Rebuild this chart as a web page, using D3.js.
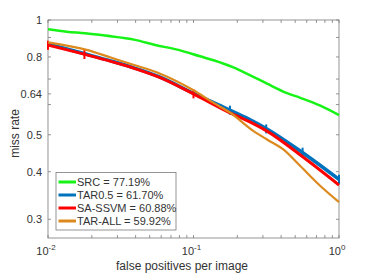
<!DOCTYPE html>
<html>
<head>
<meta charset="utf-8">
<script src="https://cdn.jsdelivr.net/npm/d3@7"></script>
<style>
  body { margin: 0; background: #fff; }
  text { font-family: "Liberation Sans", Arial, sans-serif; fill: #333; }
</style>
</head>
<body>
<svg id="Diagram"></svg>
<script>
// miss rate vs false positives per image
var srcFppi = [0.01, 0.01345, 0.018, 0.0247, 0.0397, 0.0546, 0.0787, 0.111, 0.1374, 0.188, 0.2455, 0.32, 0.4395, 0.542, 0.745, 1];
var srcMr   = [0.946, 0.932, 0.923, 0.910, 0.887, 0.860, 0.835, 0.803, 0.784, 0.751, 0.716, 0.681, 0.643, 0.625, 0.596, 0.563];

var tarFppi = [0.01, 0.01845, 0.027, 0.0386, 0.059, 0.1, 0.17, 0.24, 0.32, 0.557, 1];
var tarMr   = [0.866, 0.813, 0.781, 0.750, 0.708, 0.642, 0.585, 0.550, 0.518, 0.450, 0.382];

var ssvmFppi = [0.01, 0.01845, 0.027, 0.0386, 0.059, 0.1, 0.17, 0.24, 0.32, 0.557, 1];
var ssvmMr   = [0.859, 0.810, 0.779, 0.748, 0.706, 0.640, 0.576, 0.542, 0.511, 0.439, 0.369];

var allFppi = [0.01, 0.01845, 0.027, 0.0386, 0.059, 0.1, 0.1374, 0.179, 0.259, 0.32, 0.416, 0.542, 0.745, 1];
var allMr   = [0.874, 0.835, 0.797, 0.763, 0.723, 0.654, 0.606, 0.571, 0.511, 0.486, 0.457, 0.414, 0.367, 0.333];

// small vertical markers visible on the curves
var ssvmMarkFppi = [0.01, 0.0178, 0.1];
var ssvmMarkMr   = [0.859, 0.812, 0.640];
var tarMarkFppi  = [0.178, 0.316, 0.562, 1];
var tarMarkMr    = [0.580, 0.518, 0.450, 0.382];

var names = ["SRC = 77.19%", "TAR0.5 = 61.70%", "SA-SSVM = 60.88%", "TAR-ALL = 59.92%"];
var colors = ["#17f317", "#0072bd", "#ff0000", "#dc8a1e"];
var widths = [2.5, 3.5, 3, 2.2];

var yTicks = [0.3, 0.4, 0.5, 0.6, 0.64, 0.7, 0.8, 0.9, 1];
var yLabels = [0.3, 0.4, 0.5, 0.64, 0.8, 1];
var xMajor = [0.01, 0.1, 1];
var xExp = ["-2", "-1", "0"];

var width = 374, height = 273;
var margin = {"left": 48, "right": 339, "top": 20, "bottom": 238};

var svg = d3.select("#Diagram").attr("width", width).attr("height", height);

var x = d3.scaleLog().domain([0.01, 1]).range([margin.left, margin.right]);
var y = d3.scaleLog().domain([0.268, 1]).range([margin.bottom, margin.top]);

var xMinor = [];
[0.01, 0.1].forEach(function (d) {
    for (var k = 2; k <= 9; k++) xMinor.push(d * k);
});
var xTicks = xMajor.concat(xMinor);

// axes box with inward ticks on all sides
var axisColor = "#7a7a7a", tl = 3;
var g = svg.append("g");
g.append("rect")
    .attr("x", margin.left).attr("y", margin.top)
    .attr("width", margin.right - margin.left).attr("height", margin.bottom - margin.top)
    .attr("fill", "none").attr("stroke", axisColor).attr("stroke-width", 0.8);

xTicks.forEach(function (d) {
    g.append("line").attr("x1", x(d)).attr("x2", x(d)).attr("y1", margin.bottom).attr("y2", margin.bottom - tl)
        .attr("stroke", axisColor).attr("stroke-width", 0.8);
    g.append("line").attr("x1", x(d)).attr("x2", x(d)).attr("y1", margin.top).attr("y2", margin.top + tl)
        .attr("stroke", axisColor).attr("stroke-width", 0.8);
});
yTicks.forEach(function (d) {
    g.append("line").attr("x1", margin.left).attr("x2", margin.left + tl).attr("y1", y(d)).attr("y2", y(d))
        .attr("stroke", axisColor).attr("stroke-width", 0.8);
    g.append("line").attr("x1", margin.right).attr("x2", margin.right - tl).attr("y1", y(d)).attr("y2", y(d))
        .attr("stroke", axisColor).attr("stroke-width", 0.8);
});

// tick labels
yLabels.forEach(function (d) {
    g.append("text").attr("x", margin.left - 6).attr("y", y(d) + 4)
        .attr("text-anchor", "end").style("font-size", "11px").text(d);
});
xMajor.forEach(function (d, i) {
    var t = g.append("text").attr("x", x(d) - 2).attr("y", 255)
        .attr("text-anchor", "middle").style("font-size", "11px");
    t.append("tspan").text("10");
    t.append("tspan").attr("dy", -5).style("font-size", "8px").text(xExp[i]);
});

// axis titles
svg.append("text").attr("x", 182).attr("y", 270).attr("text-anchor", "middle")
    .style("font-size", "12px").text("false positives per image");
svg.append("text").attr("transform", "translate(18.5,133.5) rotate(-90)")
    .attr("text-anchor", "middle").style("font-size", "12px").text("miss rate");

// curves
var series = [[srcFppi, srcMr], [tarFppi, tarMr], [ssvmFppi, ssvmMr], [allFppi, allMr]];
var line = d3.line()
    .curve(d3.curveMonotoneX)
    .x(function (d) { return x(d[0]); })
    .y(function (d) { return y(d[1]); });

function markers(fp, mr, c) {
    fp.forEach(function (d, i) {
        svg.append("line")
            .attr("x1", x(d)).attr("x2", x(d))
            .attr("y1", y(mr[i]) - 4.5).attr("y2", y(mr[i]) + 4.5)
            .attr("stroke", c).attr("stroke-width", 2);
    });
}

series.forEach(function (s, i) {
    var pts = d3.zip(s[0], s[1]);
    svg.append("path").datum(pts)
        .attr("d", line)
        .attr("fill", "none")
        .attr("stroke", colors[i])
        .attr("stroke-width", widths[i])
        .attr("stroke-linejoin", "round");
    if (i == 1) markers(tarMarkFppi, tarMarkMr, colors[1]);
    if (i == 2) markers(ssvmMarkFppi, ssvmMarkMr, colors[2]);
});

// legend
var lg = svg.append("g");
lg.append("rect").attr("x", 56).attr("y", 172.5).attr("width", 120).attr("height", 57.5)
    .attr("fill", "#fff").attr("stroke", axisColor).attr("stroke-width", 0.8);
names.forEach(function (n, i) {
    var ly = 182 + i * 13;
    lg.append("line").attr("x1", 58.5).attr("x2", 76).attr("y1", ly).attr("y2", ly)
        .attr("stroke", colors[i]).attr("stroke-width", 3);
    lg.append("text").attr("x", 77).attr("y", ly + 4).style("font-size", "11px").text(n);
});
</script>
</body>
</html>
